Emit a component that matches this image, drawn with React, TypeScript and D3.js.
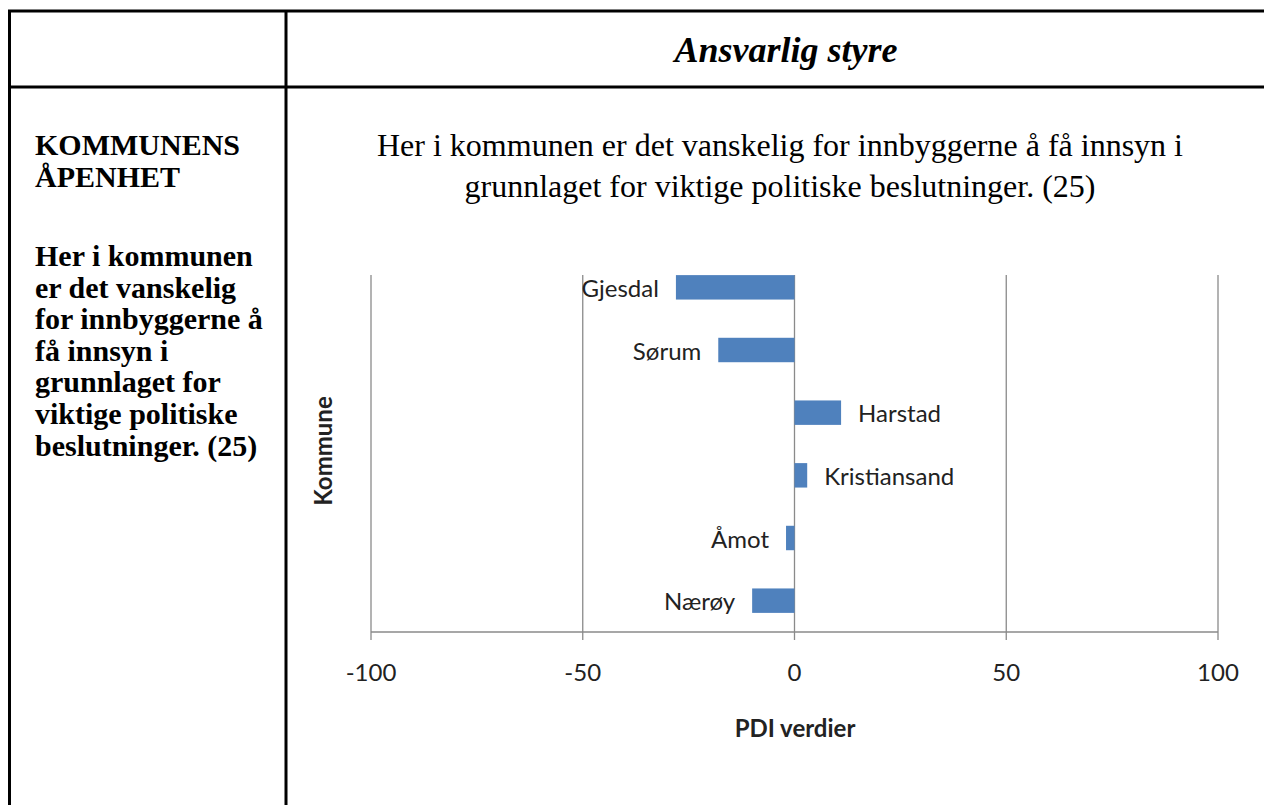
import * as d3 from 'd3';

const kommuner = ['Gjesdal', 'Sørum', 'Harstad', 'Kristiansand', 'Åmot', 'Nærøy'];
const pdiVerdier = [-28, -18, 11, 3, -2, -10];
const xTicks = [-100, -50, 0, 50, 100];

const headerTitle = 'Ansvarlig styre';
const chartTitle = [
    'Her i kommunen er det vanskelig for innbyggerne å få innsyn i',
    'grunnlaget for viktige politiske beslutninger. (25)',
];
const sideHeading = ['KOMMUNENS', 'ÅPENHET'];
const sideText = [
    'Her i kommunen',
    'er det vanskelig',
    'for innbyggerne å',
    'få innsyn i',
    'grunnlaget for',
    'viktige politiske',
    'beslutninger. (25)',
];

const width = 1264;
const height = 805;
const plot = { left: 371, right: 1218, top: 275, bottom: 632 };
const chartFont = 'Lato, "Liberation Sans", sans-serif';
const serif = '"Liberation Serif", "Times New Roman", serif';
const gridColor = '#8a8a8a';
const barColor = '#4f81bd';

export default function App() {
    const x = d3.scaleLinear().domain([-100, 100]).range([plot.left, plot.right]);
    const y = d3.scaleBand<string>()
        .domain(kommuner)
        .range([256, plot.bottom])
        .paddingInner(0.61)
        .paddingOuter(0.305);

    const rows = kommuner.map((k, i) => ({ name: k, value: pdiVerdier[i] }));

    return (
        <svg width={width} height={height} style={{ position: 'absolute', left: 0, top: 0, background: '#fff' }}>
            {/* table frame */}
            <g stroke="#000" strokeWidth={3}>
                <line x1={8} x2={width} y1={11} y2={11} />
                <line x1={8} x2={width} y1={87} y2={87} />
                <line x1={9.5} x2={9.5} y1={10} y2={height} />
                <line x1={286} x2={286} y1={10} y2={height} />
            </g>

            <text x={786} y={62} textAnchor="middle" fontFamily={serif} fontWeight="bold"
                fontStyle="italic" fontSize={36}>{headerTitle}</text>

            {/* left column */}
            <g fontFamily={serif} fontWeight="bold" fontSize={30}>
                {sideHeading.map((t, i) => (
                    <text key={t} x={35} y={155 + i * 32}>{t}</text>
                ))}
                {sideText.map((t, i) => (
                    <text key={t} x={35} y={266 + i * 31.6}>{t}</text>
                ))}
            </g>

            {/* chart title */}
            <g fontFamily={serif} fontSize={32} textAnchor="middle">
                {chartTitle.map((t, i) => (
                    <text key={t} x={780} y={156 + i * 41}>{t}</text>
                ))}
            </g>

            {/* grid + axes */}
            <g stroke={gridColor} strokeWidth={1.3}>
                {xTicks.map(t => (
                    <line key={t} x1={x(t)} x2={x(t)} y1={plot.top} y2={plot.bottom + 8} />
                ))}
                <line x1={plot.left} x2={plot.right} y1={plot.bottom} y2={plot.bottom} />
            </g>

            <g>
                {rows.map(d => (
                    <rect key={d.name}
                        x={Math.min(x(0), x(d.value))}
                        y={y(d.name)!}
                        width={Math.abs(x(d.value) - x(0))}
                        height={y.bandwidth()}
                        fill={barColor} />
                ))}
            </g>

            <g fontFamily={chartFont} fontSize={24} fill="#222">
                {rows.map(d => (
                    <text key={d.name}
                        x={d.value < 0 ? x(d.value) - 17 : x(d.value) + 17}
                        y={y(d.name)! + y.bandwidth() / 2}
                        dominantBaseline="central"
                        textAnchor={d.value < 0 ? 'end' : 'start'}>{d.name}</text>
                ))}
                {xTicks.map(t => (
                    <text key={t} x={x(t)} y={671} textAnchor="middle" dominantBaseline="central">{t}</text>
                ))}
            </g>

            <text x={795} y={727} textAnchor="middle" dominantBaseline="central"
                fontFamily={chartFont} fontWeight="bold" fontSize={24} fill="#222">PDI verdier</text>
            <text transform="translate(322,451) rotate(-90)" textAnchor="middle" dominantBaseline="central"
                fontFamily={chartFont} fontWeight="bold" fontSize={24} fill="#222">Kommune</text>
        </svg>
    );
}
